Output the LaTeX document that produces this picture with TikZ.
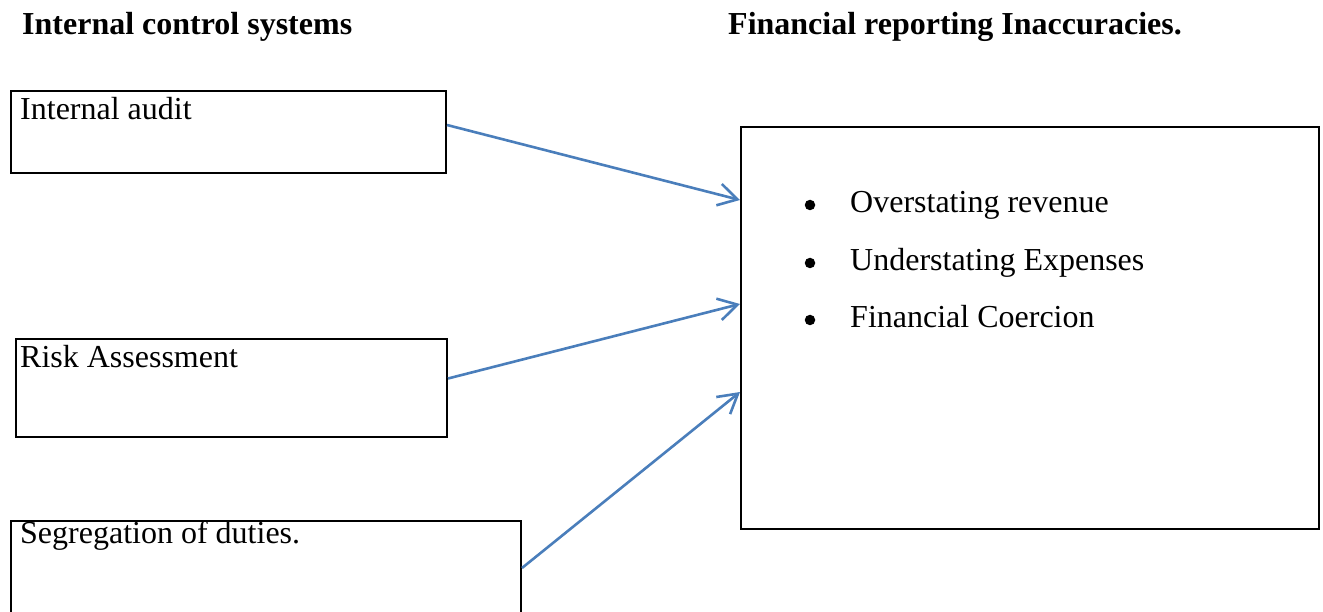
\documentclass[tikz,border=0pt]{standalone}
\usepackage{fontspec}
\setmainfont{Liberation Serif}
\usetikzlibrary{arrows.meta}
\definecolor{arrowblue}{HTML}{4A7EBB}
\tikzset{
  box/.style={draw=black, line width=2pt, rectangle, anchor=north west, inner sep=0pt},
  lbl/.style={anchor=base west, inner sep=0pt, font=\fontsize{32}{38}\selectfont},
  head/.style={anchor=base west, inner sep=0pt, font=\fontsize{32}{38}\selectfont\bfseries},
  bul/.style={circle, fill=black, inner sep=0pt, minimum size=10.5pt},
  conn/.style={draw=arrowblue, line width=2.6pt, -{Straight Barb[length=19pt,width=22pt,line width=2.6pt]}}
}
\begin{document}
\begin{tikzpicture}[x=1pt,y=-1pt]
\useasboundingbox (0,0) rectangle (1323,612);
% headings
\node[head] (h1) at (22,35) {Internal control systems};
\node[head] (h2) at (728,35) {Financial reporting Inaccuracies.};
% left boxes
\node[box, minimum width=435pt, minimum height=82pt] (ia) at (10,90) {};
\node[lbl] (tia) at (20,120) {Internal audit};
\node[box, minimum width=431pt, minimum height=97pt] (ra) at (15,338.5) {};
\node[lbl] (tra) at (20,367) {Risk Assessment};
\node[box, minimum width=510pt, minimum height=110pt] (sd) at (10,519.5) {};
\node[lbl] (tsd) at (20,543) {Segregation of duties.};
% right box
\node[box, minimum width=578pt, minimum height=402pt] (rb) at (740,126) {};
\node[bul] (b1) at (810,205) {};
\node[lbl] (t1) at (850,213) {Overstating revenue};
\node[bul] (b2) at (810,263) {};
\node[lbl] (t2) at (850,271) {Understating Expenses};
\node[bul] (b3) at (810,320) {};
\node[lbl] (t3) at (850,328) {Financial Coercion};
% connectors
\draw[conn] ([yshift=7pt]ia.east) -- ([yshift=128pt]rb.west);
\draw[conn] ([yshift=9.5pt]ra.east) -- ([yshift=24pt]rb.west);
\draw[conn] ([yshift=7.5pt]sd.east) -- ([yshift=-64pt]rb.west);
\end{tikzpicture}
\end{document}
